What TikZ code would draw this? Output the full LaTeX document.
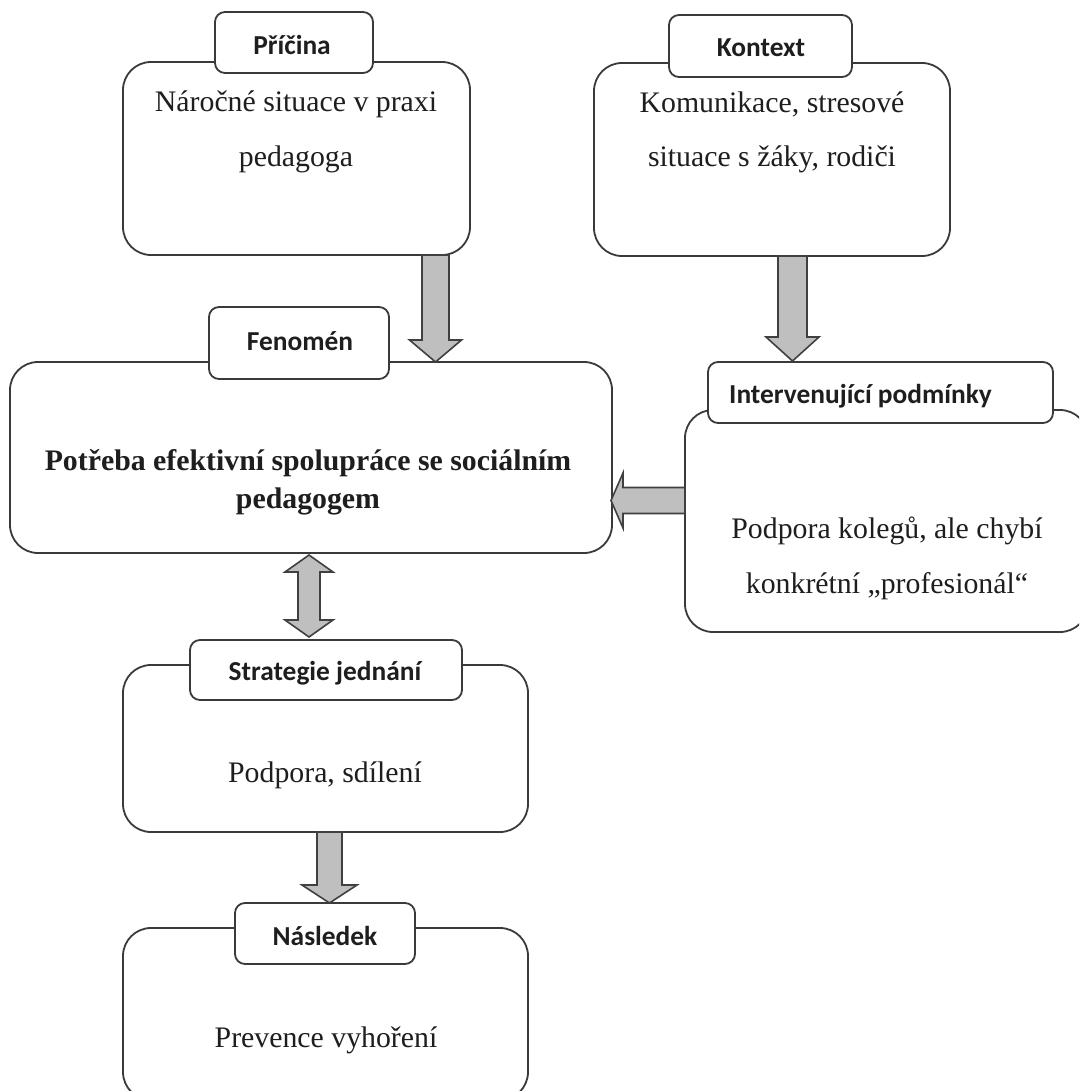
\documentclass[tikz,border=0pt]{standalone}
\usepackage{fontspec}
\setmainfont{Liberation Serif}
\newfontfamily\labfont{Carlito}
\definecolor{linec}{HTML}{3A3A3A}
\definecolor{arrc}{HTML}{404040}
\definecolor{arrf}{HTML}{BFBFBF}
\definecolor{txt}{HTML}{1E1E1E}
\begin{document}
\begin{tikzpicture}[x=1pt,y=-1pt,
  bigbox/.style={draw=linec, line width=1.8pt, rounded corners=28pt, fill=white, inner sep=0pt},
  labbox/.style={draw=linec, line width=1.8pt, rounded corners=10pt, fill=white, inner sep=0pt},
  body/.style={font=\fontsize{29.8}{30}\selectfont, anchor=base, inner sep=0pt, text=txt},
  bodyb/.style={font=\bfseries\fontsize{29.8}{30}\selectfont, anchor=base, inner sep=0pt, text=txt},
  lab/.style={font=\labfont\bfseries\fontsize{27.4}{30}\selectfont, anchor=base, inner sep=0pt, text=txt},
  blk/.style={draw=arrc, line width=1.6pt, fill=arrf, line join=miter}]
\useasboundingbox (0,0) rectangle (1079,1091);
\begin{scope}
\clip (0,0) rectangle (1079,1091);
\fill[white] (0,0) rectangle (1079,1091);
% big boxes
\node[bigbox, minimum width=347pt, minimum height=193pt] (cause) at (296.5,158.5) {};
\node[bigbox, minimum width=356pt, minimum height=193pt] (context) at (772,159.5) {};
\node[bigbox, minimum width=602pt, minimum height=191pt] (phen) at (311,457.5) {};
\node[bigbox, minimum width=403pt, minimum height=222pt] (interv) at (886.5,521) {};
\node[bigbox, minimum width=405pt, minimum height=167pt] (strat) at (325.5,748.5) {};
\node[bigbox, minimum width=405pt, minimum height=172pt] (cons) at (325.5,1014) {};
% label boxes
\node[labbox, minimum width=158pt, minimum height=61pt] (causeL) at (294,42.5) {};
\node[labbox, minimum width=183pt, minimum height=62pt] (contextL) at (760.5,46) {};
\node[labbox, minimum width=180pt, minimum height=72pt] (phenL) at (299,343) {};
\node[labbox, minimum width=345pt, minimum height=61pt] (intervL) at (880.5,392.5) {};
\node[labbox, minimum width=272pt, minimum height=60pt] (stratL) at (326,670) {};
\node[labbox, minimum width=180pt, minimum height=61pt] (consL) at (325,933.5) {};
% label texts
\node[lab] (causeLT) at (292,55) {Příčina};
\node[lab] (contextLT) at (761,57) {Kontext};
\node[lab] (phenLT) at (300,350) {Fenomén};
\node[lab, anchor=base west] (intervLT) at (729,403) {Intervenující podmínky};
\node[lab] (stratLT) at (325,680) {Strategie jednání};
\node[lab] (consLT) at (325,945) {Následek};
% body texts
\node[body] (causeT1) at (296,112) {Náročné situace v praxi};
\node[body] (causeT2) at (296,167) {pedagoga};
\node[body] (contextT1) at (772,113) {Komunikace, stresové};
\node[body] (contextT2) at (772,167) {situace s žáky, rodiči};
\node[bodyb] (phenT1) at (308,470) {Potřeba efektivní spolupráce se sociálním};
\node[bodyb] (phenT2) at (308,508) {pedagogem};
\node[body] (intervT1) at (887,538) {Podpora kolegů, ale chybí};
\node[body] (intervT2) at (887,593) {konkrétní „profesionál“};
\node[body] (stratT) at (325,782) {Podpora, sdílení};
\node[body] (consT) at (326,1047) {Prevence vyhoření};
% block arrows
% cause -> phen
\draw[blk] (422,255) -- (422,340) -- (409.5,340) -- (435.5,362) -- (461.5,340) -- (449,340) -- (449,255) -- cycle;
% context -> intervL
\draw[blk] (778,256) -- (778,337) -- (766,337) -- (792.5,361) -- (819,337) -- (807,337) -- (807,256) -- cycle;
% interv -> phen
\draw[blk] (685,487.5) -- (623,487.5) -- (623,473) -- (611,500.5) -- (623,528) -- (623,513.5) -- (685,513.5) -- cycle;
% phen <-> strat
\draw[blk] (309,555) -- (333,572) -- (320,572) -- (320,620) -- (333,620) -- (309,637) -- (285,620) -- (298,620) -- (298,572) -- (285,572) -- cycle;
% strat -> cons
\draw[blk] (317,832) -- (317,885) -- (302,885) -- (329.5,903) -- (357,885) -- (342,885) -- (342,832) -- cycle;
\end{scope}
\end{tikzpicture}
\end{document}
